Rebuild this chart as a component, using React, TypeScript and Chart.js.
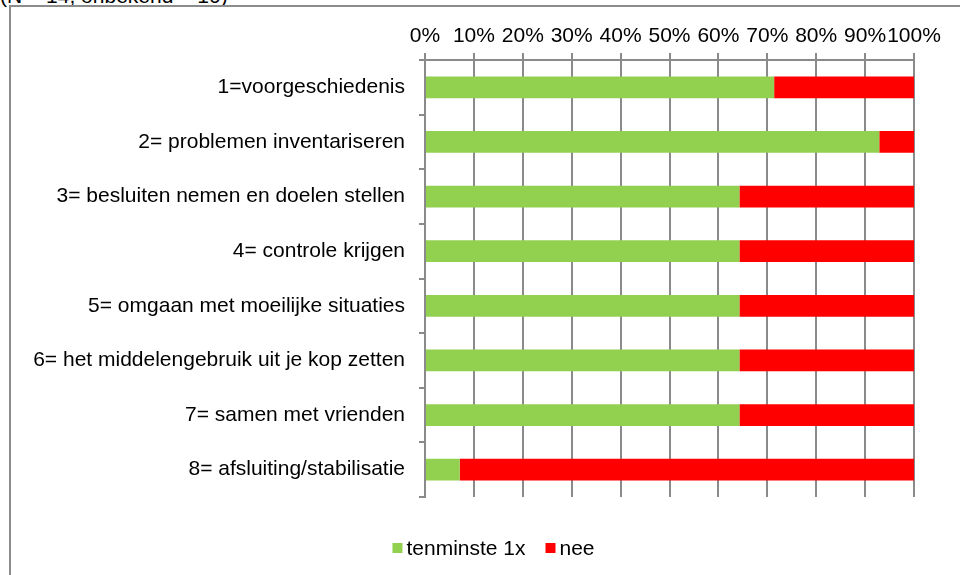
import React, { useEffect, useRef } from "react";
import { Chart, registerables } from "chart.js";

Chart.register(...registerables);

const headerText = "(N = 14, onbekend = 10)";
const categories = [
  "1=voorgeschiedenis",
  "2= problemen inventariseren",
  "3= besluiten nemen en doelen stellen",
  "4= controle krijgen",
  "5= omgaan met moeilijke situaties",
  "6= het middelengebruik uit je kop zetten",
  "7= samen met vrienden",
  "8= afsluiting/stabilisatie",
];
const seriesNames = ["tenminste 1x", "nee"];
const tenminste = [71.4, 92.9, 64.3, 64.3, 64.3, 64.3, 64.3, 7.1];
const nee = [28.6, 7.1, 35.7, 35.7, 35.7, 35.7, 35.7, 92.9];
const xTickLabels = ["0%", "10%", "20%", "30%", "40%", "50%", "60%", "70%", "80%", "90%", "100%"];
const seriesColors = ["#92D050", "#FF0000"];

const FONT = "'Liberation Sans', Arial, sans-serif";
const GRID = "#8a8a8a";

const legendPlugin = {
  id: "customLegend",
  afterDraw(chart: any) {
    const ctx = chart.ctx;
    ctx.save();
    ctx.font = `21px ${FONT}`;
    ctx.textBaseline = "middle";
    ctx.textAlign = "left";
    const box = 10;
    const gapText = 4;
    const gapItem = 20;
    const items = chart.data.datasets.map((d: any) => ({
      label: d.label,
      color: d.backgroundColor,
      w: ctx.measureText(d.label).width,
    }));
    const total = items.reduce((s: number, it: any, i: number) => s + box + gapText + it.w + (i > 0 ? gapItem : 0), 0);
    const cy = 548;
    let x = 493.5 - total / 2;
    items.forEach((it: any) => {
      ctx.fillStyle = it.color;
      ctx.fillRect(x, cy - box / 2, box, box);
      ctx.fillStyle = "#000";
      ctx.fillText(it.label, x + box + gapText, cy + 1);
      x += box + gapText + it.w + gapItem;
    });
    ctx.restore();
  },
};

export default function App() {
  const ref = useRef<HTMLCanvasElement | null>(null);
  useEffect(() => {
    if (!ref.current) return;
    const chart = new Chart(ref.current, {
      type: "bar",
      data: {
        labels: categories,
        datasets: [
          { label: seriesNames[0], data: tenminste, backgroundColor: seriesColors[0], barPercentage: 0.4, categoryPercentage: 1 },
          { label: seriesNames[1], data: nee, backgroundColor: seriesColors[1], barPercentage: 0.4, categoryPercentage: 1 },
        ],
      },
      options: {
        indexAxis: "y",
        animation: false,
        responsive: false,
        maintainAspectRatio: false,
        layout: { padding: { left: 10, right: 46, top: 0, bottom: 78 } },
        plugins: {
          legend: { display: false },
          tooltip: { enabled: false },
        },
        scales: {
          x: {
            position: "top",
            stacked: true,
            min: 0,
            max: 100,
            ticks: {
              stepSize: 10,
              color: "#000",
              font: { family: FONT, size: 21 },
              padding: 4,
              maxRotation: 0,
              autoSkip: false,
              callback: (_v: any, i: number) => xTickLabels[i],
            },
            grid: { color: GRID, lineWidth: 2, tickLength: 7, drawTicks: true },
            border: { display: true, color: GRID, width: 2 },
            afterFit: (s: any) => {
              s.height = 60;
            },
          },
          y: {
            stacked: true,
            offset: true,
            ticks: {
              color: "#000",
              font: { family: FONT, size: 21 },
              padding: 14,
              autoSkip: false,
            },
            grid: { display: true, drawOnChartArea: false, offset: true, color: GRID, lineWidth: 2, tickLength: 6 },
            border: { display: true, color: GRID, width: 2 },
            afterFit: (s: any) => {
              s.width = 415;
            },
          },
        },
      },
      plugins: [legendPlugin],
    });
    return () => chart.destroy();
  }, []);

  return (
    <div style={{ position: "fixed", left: 0, top: 0, width: 960, height: 575, overflow: "hidden", background: "#fff" }}>
      <div
        style={{
          position: "absolute",
          left: 0,
          top: -16,
          font: `21px ${FONT}`,
          color: "#000",
          whiteSpace: "nowrap",
          lineHeight: "24px",
        }}
      >
        {headerText}
      </div>
      <div
        style={{
          position: "absolute",
          left: 9,
          top: 5,
          width: 1000,
          height: 700,
          border: "2px solid #8c8c8c",
          boxSizing: "border-box",
        }}
      />
      <canvas ref={ref} width={960} height={575} style={{ position: "absolute", left: 0, top: 0, width: 960, height: 575 }} />
    </div>
  );
}
